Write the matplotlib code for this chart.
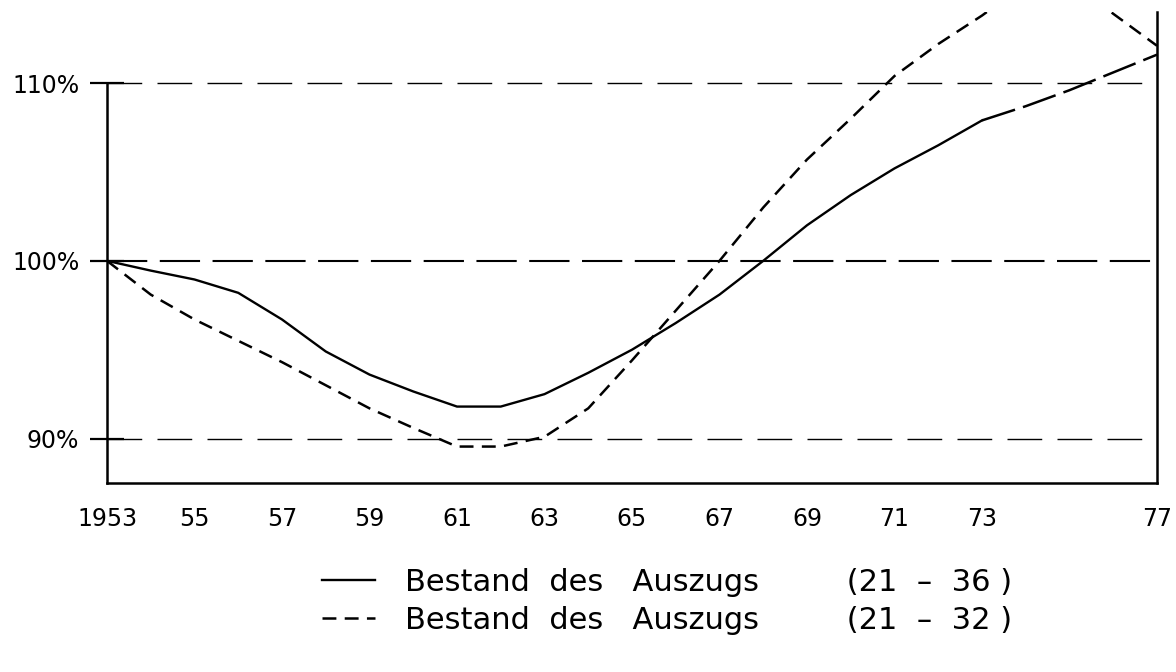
import matplotlib
matplotlib.use('Agg')
import matplotlib.pyplot as plt

plt.rcParams['font.family'] = ['DejaVu Sans']
plt.rcParams['lines.scale_dashes'] = False

years = list(range(1953, 1978))
# Bestand des Auszugs (21-36), in % of 1953
bestand_21_36 = [100.0, 99.45, 98.95, 98.2, 96.7, 94.9, 93.6, 92.65, 91.8, 91.8,
                 92.5, 93.7, 95.0, 96.5, 98.1, 100.0, 102.0, 103.7, 105.2, 106.5,
                 107.9, 108.7, 109.6, 110.6, 111.6]
# Bestand des Auszugs (21-32), in % of 1953
bestand_21_32 = [100.0, 98.1, 96.7, 95.5, 94.3, 93.0, 91.7, 90.6, 89.55, 89.55,
                 90.1, 91.7, 94.4, 97.2, 100.0, 103.0, 105.7, 108.0, 110.4, 112.2,
                 113.8, 115.6, 115.8, 113.9, 112.1]
label_36 = 'Bestand  des   Auszugs' + ' ' * 9 + '(21  –  36 )'
label_32 = 'Bestand  des   Auszugs' + ' ' * 9 + '(21  –  32 )'
proj_from = 1973

xtick_years = [1953, 1955, 1957, 1959, 1961, 1963, 1965, 1967, 1969, 1971, 1973, 1977]
xtick_labels = ['1953', '55', '57', '59', '61', '63', '65', '67', '69', '71', '73', '77']
ytick_vals = [90, 100, 110]
ytick_labels = ['90%', '100%', '110%']

fig = plt.figure(figsize=(11.76, 6.72), dpi=100)
ax = fig.add_axes([107 / 1176, 1 - 483 / 672, (1157 - 107) / 1176, (483 - 12) / 672])

# reference lines
ax.axhline(110, color='black', lw=1.0, ls=(0, (25, 11)), zorder=1)
ax.axhline(90, color='black', lw=1.0, ls=(0, (25, 11)), zorder=1)
ax.axhline(100, color='black', lw=1.5, ls=(0, (29, 9)), zorder=1)

# solid series, projection after 1973 in long dashes
i = years.index(proj_from)
solid, = ax.plot(years[:i + 1], bestand_21_36[:i + 1], color='black', lw=1.7,
                 label=label_36, zorder=3)
ax.plot(years[i:], bestand_21_36[i:], color='black', lw=1.8, ls=(0, (25, 6)), zorder=3)

dashed, = ax.plot(years, bestand_21_32, color='black', lw=1.8, ls=(0, (10, 6)),
                  label=label_32, zorder=3)

ax.set_xlim(1953, 1977)
ax.set_ylim(87.5, 114.0)

ax.spines['top'].set_visible(False)
ax.spines['left'].set_bounds(87.5, 110)
for s in ['left', 'right', 'bottom']:
    ax.spines[s].set_linewidth(1.8)

ax.set_xticks(xtick_years)
ax.set_xticklabels(xtick_labels)
ax.set_yticks(ytick_vals)
ax.set_yticklabels(ytick_labels)
ax.tick_params(axis='x', length=0, pad=17, labelsize=17)
ax.tick_params(axis='y', direction='inout', length=24, width=1.6, pad=8, labelsize=17)

leg = ax.legend(handles=[solid, dashed], loc='upper left',
                bbox_to_anchor=(322 / 1176, 1 - 568 / 672),
                bbox_transform=fig.transFigure, frameon=False, fontsize=22,
                handlelength=1.75, handletextpad=0.95, labelspacing=0.3,
                borderpad=0, borderaxespad=0)

fig.savefig('out.png', dpi=100, facecolor='white')
